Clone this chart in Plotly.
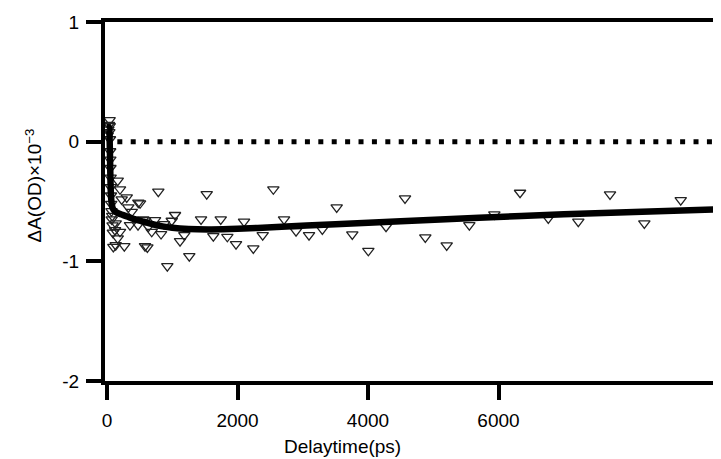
import plotly.graph_objects as go

# observed transient absorption points (delay in ps, dA x 1e-3)
t_obs = [10, 20, 30, 40, 42, 35, 45, 48, 50, 52, 55, 58, 60, 64, 68, 72, 80, 85, 90, 97,
         123, 133, 133, 164, 164, 199, 199, 225, 265, 302, 326, 352, 379, 475, 480, 506,
         556, 582, 582, 618, 633, 685, 736, 786, 828, 874, 924, 992, 1042, 1119, 1185,
         1261, 1441, 1528, 1629, 1743, 1844, 1977, 2100, 2242, 2386, 2549, 2713, 2897,
         3096, 3300, 3520, 3759, 4005, 4276, 4567, 4878, 5206, 5553, 5936, 6330, 6763,
         7223, 7709, 8235, 8793, 9385]
a_obs = [0.05, 0.10, 0.14, 0.18, 0.13, 0.08, 0.02, -0.08, -0.15, -0.22, -0.30, -0.38, -0.45,
         -0.52, -0.58, -0.649, -0.62, -0.70, -0.76, -0.879,
         -0.739, -0.683, -0.864, -0.326, -0.808, -0.398, -0.753, -0.482, -0.873, -0.465,
         -0.549, -0.697, -0.586, -0.697, -0.510, -0.515, -0.649, -0.655, -0.873, -0.884,
         -0.711, -0.753, -0.655, -0.418, -0.772, -0.689, -1.04, -0.661, -0.613, -0.831,
         -0.781, -0.956, -0.649, -0.438, -0.789, -0.649, -0.795, -0.856, -0.669, -0.892,
         -0.781, -0.398, -0.649, -0.747, -0.781, -0.733, -0.549, -0.775, -0.912, -0.711,
         -0.474, -0.800, -0.867, -0.697, -0.608, -0.427, -0.641, -0.669, -0.440, -0.683,
         -0.488, -0.641]

# fitted curve
t_fit = [0, 30, 40, 50, 60, 75, 90, 110, 140, 180, 240, 320, 420, 550, 700, 850, 1000,
         1250, 1600, 2000, 2600, 3500, 4500, 5700, 7000, 8200, 9500]
a_fit = [0.12, 0.12, 0.02, -0.25, -0.45, -0.53, -0.56, -0.575, -0.59, -0.60, -0.612,
         -0.628, -0.648, -0.668, -0.69, -0.708, -0.72, -0.73, -0.733, -0.728, -0.713,
         -0.69, -0.665, -0.636, -0.607, -0.585, -0.563]

x_ticks = [0, 2000, 4000, 6000]
x_ticktext = ["0", "2000", "4000", "6000"]
y_ticks = [-2, -1, 0, 1]
y_ticktext = ["-2", "-1", "0", "1"]

FONT = "Arial, Liberation Sans, sans-serif"

# page body has an 8px margin; the figure is sized to fill the rest of the window
W, H = 713, 451
L, T, B = 97, 14, 78
PW = W - L
PH = H - T - B

fig = go.Figure()
fig.add_trace(go.Scatter(
    x=t_obs, y=a_obs, mode="markers",
    marker=dict(symbol="triangle-down-open", size=10, color="#222",
                line=dict(width=1.3, color="#222")),
    showlegend=False, hoverinfo="skip"))
fig.add_trace(go.Scatter(
    x=t_fit, y=a_fit, mode="lines",
    line=dict(color="black", width=6.5, shape="spline", smoothing=0.6),
    showlegend=False, hoverinfo="skip"))

fig.add_shape(type="line", xref="paper", yref="y", x0=0.02, x1=1, y0=0, y1=0,
              line=dict(color="black", width=5, dash="5px,8.4px"))

fig.update_layout(
    width=W, height=H,
    margin=dict(l=L, r=0, t=T, b=B),
    paper_bgcolor="white", plot_bgcolor="white",
    font=dict(family=FONT, size=19, color="black"),
    xaxis=dict(range=[-31, 9410], tickvals=x_ticks, ticktext=x_ticktext,
               showgrid=False, zeroline=False, showline=True, linecolor="black",
               linewidth=4, mirror=True, ticks="outside", ticklen=15, tickwidth=4,
               tickcolor="black", ticklabelstandoff=4),
    yaxis=dict(range=[-2, 1], tickvals=y_ticks, ticktext=y_ticktext,
               showgrid=False, zeroline=False, showline=True, linecolor="black",
               linewidth=4, ticks="outside", ticklen=15, tickwidth=4,
               tickcolor="black", ticklabelstandoff=3),
    annotations=[
        dict(text="Delaytime(ps)", xref="paper", yref="paper",
             x=(342.5 - 105) / PW, y=-(446 - 380.5) / PH, showarrow=False,
             font=dict(size=19), xanchor="center", yanchor="middle"),
        dict(text="ΔA(OD)×10<sup>−3</sup>", xref="paper", yref="paper",
             x=-(105 - 33) / PW, y=(380.5 - 185) / PH, showarrow=False,
             textangle=-90, font=dict(size=19), xanchor="center", yanchor="middle"),
    ],
)

fig.write_html("out.html")
